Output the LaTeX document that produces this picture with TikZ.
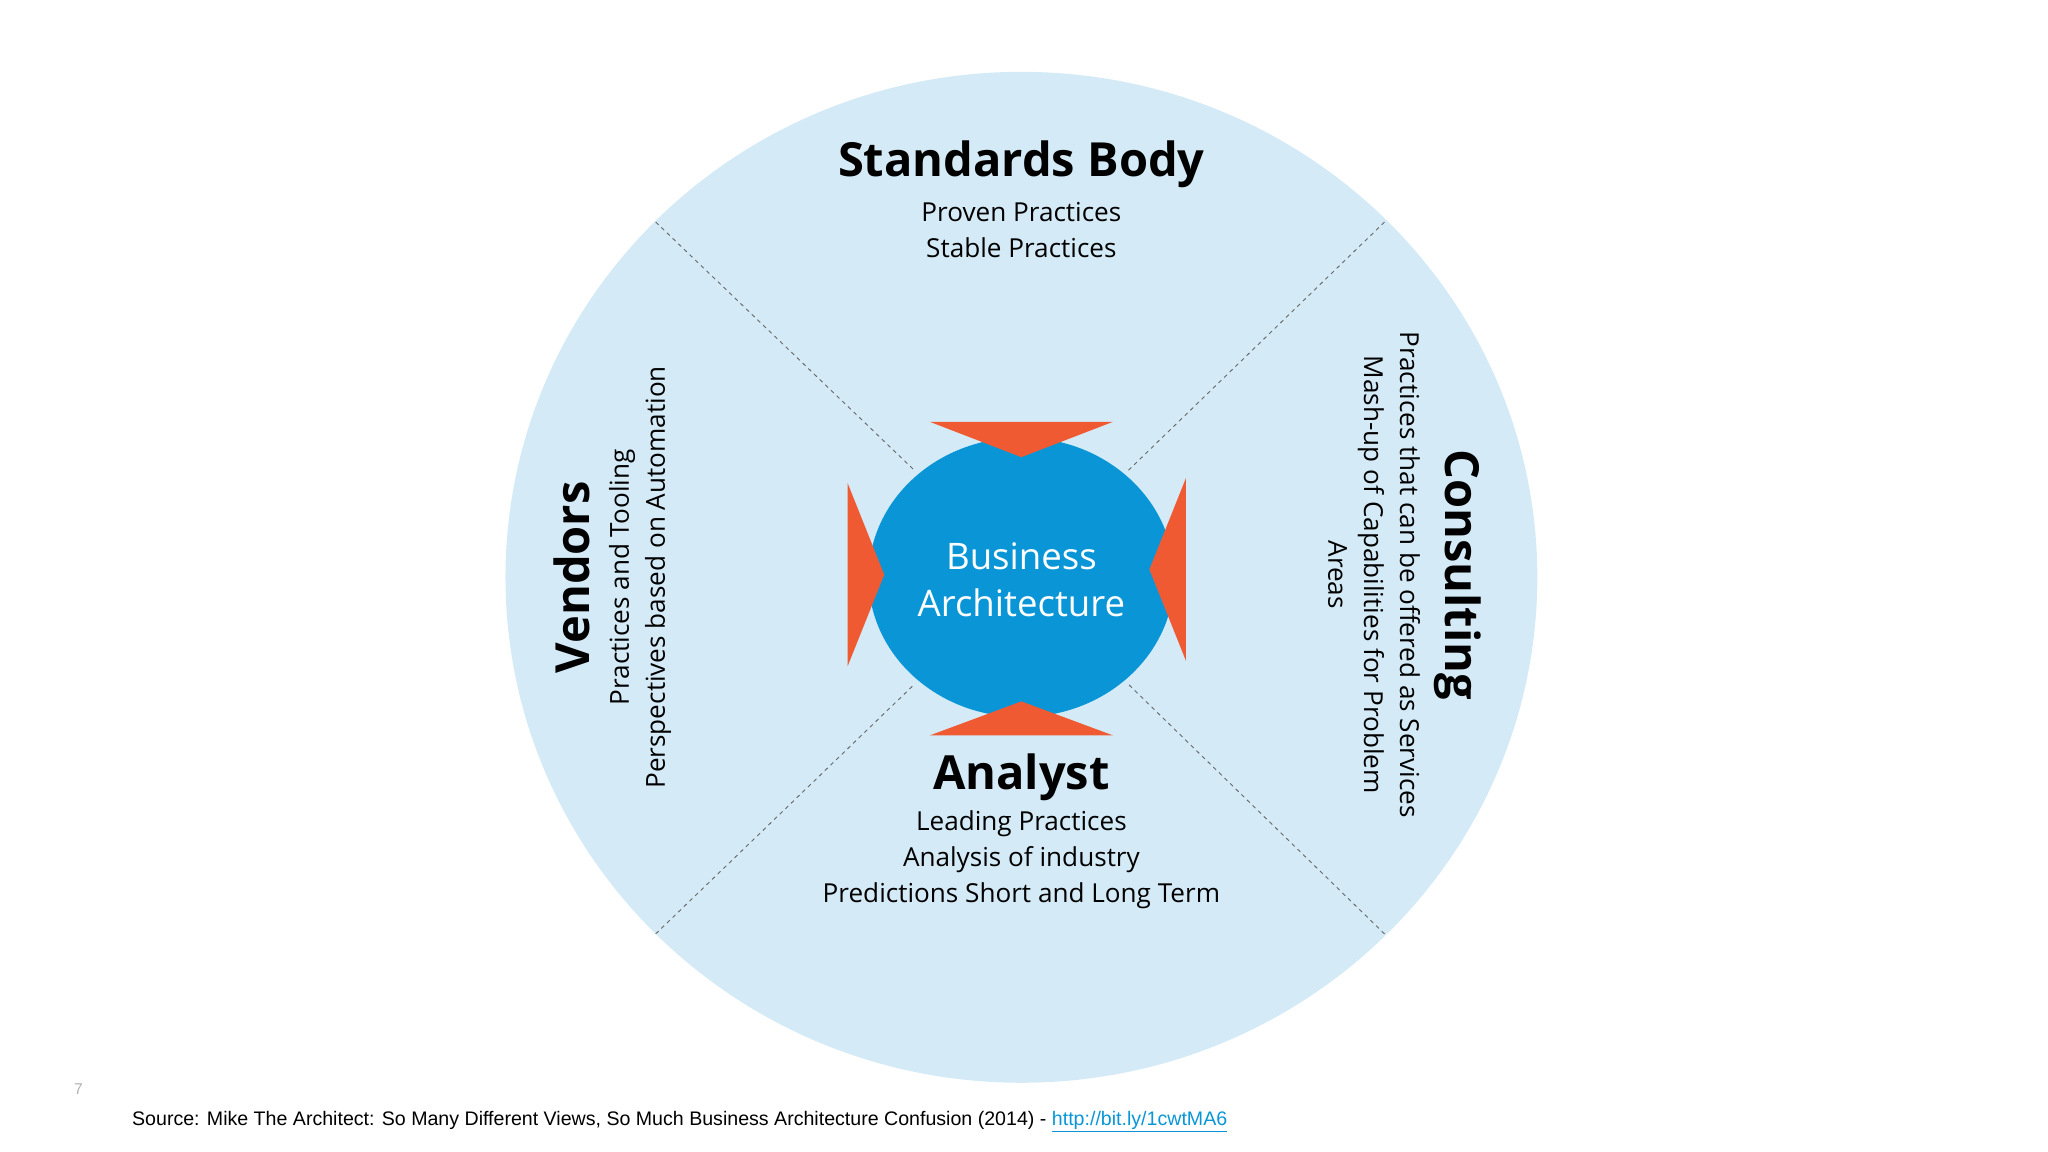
\documentclass[tikz,border=0pt]{standalone}
\usepackage{fontspec}
\setmainfont{Open Sans}
\newfontfamily\arialf{Liberation Sans}
\begin{document}
\begin{tikzpicture}[x=1pt,y=-1pt,
  ttl/.style={font=\fontsize{36}{40}\selectfont\bfseries,inner sep=0},
  sub/.style={font=\fontsize{20}{27.5}\selectfont\addfontfeatures{}, align=center,inner sep=0},
  div/.style={draw=gray!80!black,dashed,line width=0.7pt},
  arr/.style={fill=orange1}]
\definecolor{lightb}{HTML}{D4EBF7}
\definecolor{midb}{HTML}{0A96D6}
\definecolor{orange1}{HTML}{F05A32}
\useasboundingbox (0,0) rectangle (1568,882);
\fill[lightb] (782,442) ellipse (395 and 387);
\coordinate (c) at (782,442);
\coordinate (tl) at (502,170); \coordinate (tr) at (1060,170);
\coordinate (bl) at (502,715); \coordinate (br) at (1060,715);
\draw[div] (tl) -- (700,360);
\draw[div] (tr) -- (864,360);
\draw[div] (bl) -- (700,524);
\draw[div] (br) -- (864,524);
\fill[midb] (c) ellipse (117 and 107);
\fill[arr] (712,323) -- (852,323) -- (782,350) -- cycle;
\fill[arr] (712,563) -- (852,563) -- (782,537) -- cycle;
\fill[arr] (649,370) -- (649,510) -- (677,440) -- cycle;
\fill[arr] (908,366) -- (908,506) -- (880,436) -- cycle;
\node[sub,text=white,font=\fontsize{28}{36}\selectfont] (ba) at (782,444) {Business\\Architecture};
\node[ttl] (sb) at (782,126) {Standards Body};
\node[sub] (sbt) at (782,176) {Proven Practices\\Stable Practices};
\node[ttl] (an) at (782,595) {Analyst};
\node[sub] (ant) at (782,658) {Leading Practices\\Analysis of industry\\Predictions Short and Long Term};
\node[ttl,rotate=90] (ve) at (438,442) {Vendors};
\node[sub,rotate=90] (vet) at (490,442) {Practices and Tooling\\Perspectives based on Automation};
\node[ttl,rotate=-90] (co) at (1116,440) {Consulting};
\node[sub,rotate=-90] (cot) at (1052,440) {Practices that can be offered as Services\\Mash-up of Capabilities for Problem\\Areas};
\node[font=\arialf\fontsize{12}{14}\selectfont,text=gray!60] (pg) at (60,834) {7};
\node[font=\arialf\fontsize{15}{18}\selectfont,anchor=west,inner sep=0] (src) at (101,859) {Source: Mike The Architect: So Many Different Views, So Much Business Architecture Confusion (2014) - \textcolor{midb}{\underline{http://bit.ly/1cwtMA6}}};
\end{tikzpicture}
\end{document}
